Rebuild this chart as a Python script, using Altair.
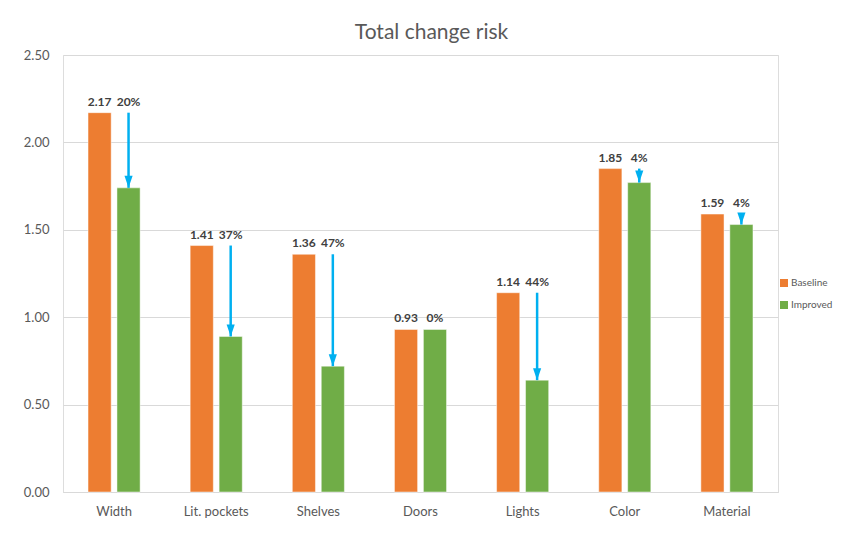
import altair as alt
import pandas as pd

categories = ["Width", "Lit. pockets", "Shelves", "Doors", "Lights", "Color", "Material"]
baseline = [2.17, 1.41, 1.36, 0.93, 1.14, 1.85, 1.59]
improved = [1.74, 0.89, 0.72, 0.93, 0.64, 1.77, 1.53]
reduction = ["20%", "37%", "47%", "0%", "44%", "4%", "4%"]
series = ["Baseline", "Improved"]
colors = ["#ED7D31", "#70AD47"]
y_ticks = [0, 0.5, 1.0, 1.5, 2.0, 2.5]

bars_df = pd.DataFrame({
    "category": categories * 2,
    "series": [series[0]] * len(categories) + [series[1]] * len(categories),
    "value": baseline + improved,
})
arrows_df = pd.DataFrame({
    "category": categories,
    "series": series[1],
    "start": baseline,
    "end": improved,
    "label": reduction,
})

FONT = "Lato"

x_enc = alt.X(
    "category:N", sort=categories,
    scale=alt.Scale(paddingInner=0.49, paddingOuter=0.245),
    axis=alt.Axis(title=None, labelAngle=0, ticks=False, domainColor="#D9D9D9",
                  labelColor="#595959", labelFontSize=13, labelPadding=13, labelFont=FONT),
)
xo_enc = alt.XOffset("series:N", scale=alt.Scale(domain=series, paddingInner=0.2))
y_scale = alt.Scale(domain=[0, 2.5], nice=False)
y_axis = alt.Axis(title=None, values=y_ticks, format=".2f", domain=False, ticks=False,
                  gridColor="#D9D9D9", labelColor="#595959", labelFontSize=13,
                  labelPadding=14, labelFont=FONT)

bars = alt.Chart(bars_df).mark_bar(stroke="white", strokeWidth=0.8, strokeOpacity=0.6).encode(
    x=x_enc,
    xOffset=xo_enc,
    y=alt.Y("value:Q", scale=y_scale, axis=y_axis),
    color=alt.Color("series:N", scale=alt.Scale(domain=series, range=colors),
                    legend=alt.Legend(title=None, orient="none", legendX=716, legendY=223,
                                      symbolType="square", symbolSize=64, labelFontSize=10,
                                      labelColor="#595959", labelFont=FONT, rowPadding=12,
                                      labelOffset=2, symbolStrokeWidth=0)),
)

base_labels = alt.Chart(bars_df).transform_filter(
    alt.datum.series == series[0]
).mark_text(fontWeight="bold", fontSize=12, font=FONT, color="#404040",
            baseline="alphabetic", dy=-7).encode(
    x=x_enc, xOffset=xo_enc,
    y=alt.Y("value:Q", scale=y_scale),
    text=alt.Text("value:Q", format=".2f"),
)

pct_labels = alt.Chart(arrows_df).mark_text(
    fontWeight="bold", fontSize=12, font=FONT, color="#404040",
    baseline="alphabetic", dy=-7).encode(
    x=x_enc, xOffset=xo_enc,
    y=alt.Y("start:Q", scale=y_scale),
    text="label:N",
)

arrow_lines = alt.Chart(arrows_df).transform_filter(
    alt.datum.start > alt.datum.end
).mark_rule(color="#00B0F0", strokeWidth=2.5).encode(
    x=x_enc, xOffset=xo_enc,
    y=alt.Y("start:Q", scale=y_scale),
    y2=alt.Y2("end:Q"),
)

arrow_heads = alt.Chart(arrows_df).transform_filter(
    alt.datum.start > alt.datum.end
).mark_point(shape="M-0.34,-1L0.34,-1L0,0Z", filled=True, size=576,
             color="#00B0F0", opacity=1).encode(
    x=x_enc, xOffset=xo_enc,
    y=alt.Y("end:Q", scale=y_scale),
)

chart = alt.layer(bars, base_labels, pct_labels, arrow_lines, arrow_heads).properties(
    width=715, height=437,
    padding={"left": 55, "top": 47, "right": 57, "bottom": 30},
    autosize=alt.AutoSizeParams(type="none"),
    title=alt.Title("Total change risk", fontSize=21, font=FONT, fontWeight="normal",
                    color="#595959", offset=6, dx=11, frame="group", anchor="middle"),
).configure_view(stroke=None).configure(background="white")

chart.save("out.html", embed_options={"renderer": "svg", "actions": False})
